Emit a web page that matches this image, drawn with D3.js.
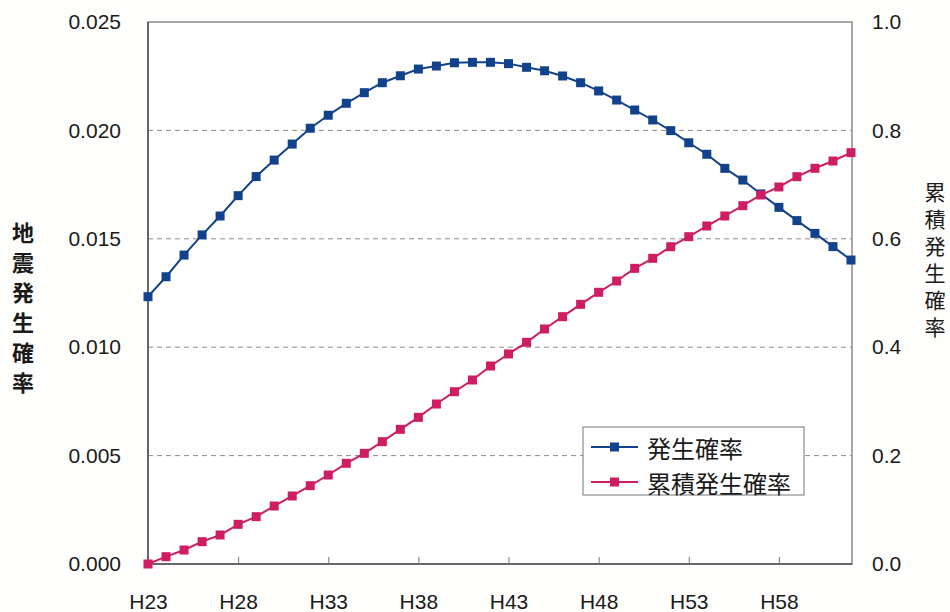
<!DOCTYPE html>
<html>
<head>
<meta charset="utf-8">
<script src="https://cdnjs.cloudflare.com/ajax/libs/d3/7.8.5/d3.min.js"></script>
<style>
body { margin: 0; background: #fff; }
svg { display: block; }
</style>
</head>
<body>
<svg id="chart"></svg>
<script>
// data, H23 .. H62
const years = d3.range(23, 63).map(y => "H" + y);
const annualProb = [0.01233, 0.01325, 0.01425, 0.01518, 0.01605, 0.01699, 0.01787, 0.01863, 0.01937, 0.02010,
  0.02070, 0.02125, 0.02174, 0.02220, 0.02252, 0.02283, 0.02297, 0.02312, 0.02314, 0.02314,
  0.02308, 0.02291, 0.02275, 0.02251, 0.02220, 0.02182, 0.02140, 0.02094, 0.02048, 0.01999,
  0.01943, 0.01890, 0.01825, 0.01771, 0.01707, 0.01645, 0.01584, 0.01525, 0.01464, 0.01402];
const cumProb = [0.0, 0.0135, 0.0258, 0.0412, 0.0535, 0.0732, 0.0873, 0.1070, 0.1255, 0.1445,
  0.1642, 0.1858, 0.2042, 0.2257, 0.2485, 0.2706, 0.2952, 0.3179, 0.3395, 0.3653,
  0.3875, 0.4090, 0.4336, 0.4563, 0.4791, 0.5013, 0.5221, 0.5455, 0.5640, 0.5854,
  0.6039, 0.6236, 0.6421, 0.6611, 0.6808, 0.6956, 0.7146, 0.7301, 0.7435, 0.7589];
const xTickLabels = ["H23", "H28", "H33", "H38", "H43", "H48", "H53", "H58"];
const leftTicks = [0, 0.005, 0.010, 0.015, 0.020, 0.025];
const rightTicks = [0, 0.2, 0.4, 0.6, 0.8, 1.0];
const seriesNames = ["発生確率", "累積発生確率"];
const colors = ["#13428c", "#cf1d63"];

const W = 950, H = 612;
const plot = {left: 148, right: 851, top: 22, bottom: 564};
const numFont = "'Liberation Sans', Arial, sans-serif";
const jpFont = "'Noto Sans CJK JP', sans-serif";

const svg = d3.select("#chart").attr("width", W).attr("height", H);
svg.append("rect").attr("width", W).attr("height", H).attr("fill", "#fefefc");

const x = d3.scalePoint().domain(years).range([plot.left, plot.right]);
const yL = d3.scaleLinear().domain([0, 0.025]).range([plot.bottom, plot.top]);
const yR = d3.scaleLinear().domain([0, 1]).range([plot.bottom, plot.top]);

// plot area
svg.append("rect")
  .attr("x", plot.left).attr("y", plot.top)
  .attr("width", plot.right + 1 - plot.left).attr("height", plot.bottom - plot.top)
  .attr("fill", "#fff").attr("stroke", "#8a8a8a").attr("stroke-width", 1.5);

// grid
svg.append("g").selectAll("line")
  .data(leftTicks.filter(t => t > 0 && t < 0.025))
  .join("line")
  .attr("x1", plot.left).attr("x2", plot.right + 1)
  .attr("y1", d => yL(d)).attr("y2", d => yL(d))
  .attr("stroke", "#8c8c8c").attr("stroke-dasharray", "5,4").attr("stroke-width", 1);

// left + bottom axis lines
svg.append("line").attr("x1", plot.left).attr("x2", plot.left)
  .attr("y1", plot.top).attr("y2", plot.bottom).attr("stroke", "#666").attr("stroke-width", 2);
svg.append("line").attr("x1", plot.left).attr("x2", plot.right + 1)
  .attr("y1", plot.bottom).attr("y2", plot.bottom).attr("stroke", "#666").attr("stroke-width", 2);

// x axis (ticks pointing up, inside)
const xAxis = d3.axisBottom(x)
  .tickValues(xTickLabels)
  .tickSize(-7).tickPadding(0);
const gx = svg.append("g").attr("transform", `translate(0,${plot.bottom})`).call(xAxis);
gx.select(".domain").remove();
gx.selectAll(".tick line").attr("stroke", "#777").filter(d => d === "H23").remove();
gx.selectAll(".tick text")
  .attr("y", 38).attr("dy", "0.35em")
  .attr("font-family", numFont).attr("font-size", 21).attr("fill", "#1a1a1a");

// left axis
const gl = svg.append("g").attr("transform", `translate(${plot.left},0)`)
  .call(d3.axisLeft(yL).tickValues(leftTicks).tickFormat(d3.format(".3f")).tickSize(0).tickPadding(27));
gl.select(".domain").remove();
gl.selectAll(".tick text").attr("font-family", numFont).attr("font-size", 21).attr("fill", "#1a1a1a");

// right axis
const gr = svg.append("g").attr("transform", `translate(${plot.right},0)`)
  .call(d3.axisRight(yR).tickValues(rightTicks).tickFormat(d3.format(".1f")).tickSize(0).tickPadding(21));
gr.select(".domain").remove();
gr.selectAll(".tick text").attr("font-family", numFont).attr("font-size", 21).attr("fill", "#1a1a1a");

// vertical axis titles, one text each, set upright
function vTitle(txt, cx, top, size, step, weight) {
  svg.append("text")
    .attr("x", cx).attr("y", top)
    .style("writing-mode", "vertical-rl")
    .style("text-orientation", "upright")
    .style("letter-spacing", (step - size) + "px")
    .attr("font-family", jpFont).attr("font-size", size).attr("font-weight", weight)
    .attr("fill", "#1a1a1a")
    .text(txt);
}
vTitle("地震発生確率", 23, 222, 22, 30, 700);
vTitle("累積発生確率", 935, 182, 21, 27, 400);

// series
const series = [
  {name: seriesNames[0], values: annualProb, y: yL, color: colors[0]},
  {name: seriesNames[1], values: cumProb, y: yR, color: colors[1]}
];

series.forEach(s => {
  const line = d3.line().x((d, i) => x(years[i])).y(d => s.y(d));
  svg.append("path").datum(s.values)
    .attr("d", line).attr("fill", "none")
    .attr("stroke", s.color).attr("stroke-width", 2);
  svg.append("g").selectAll("rect")
    .data(s.values)
    .join("rect")
    .attr("x", (d, i) => x(years[i]) - 4.5)
    .attr("y", d => s.y(d) - 4.5)
    .attr("width", 9).attr("height", 9)
    .attr("fill", s.color);
});

// legend
const lg = svg.append("g").attr("transform", "translate(583,427)");
lg.append("rect").attr("width", 221).attr("height", 68)
  .attr("fill", "#fff").attr("stroke", "#777").attr("stroke-width", 1);
series.forEach((s, i) => {
  const cy = 20 + i * 35;
  lg.append("line").attr("x1", 8).attr("x2", 55).attr("y1", cy).attr("y2", cy)
    .attr("stroke", s.color).attr("stroke-width", 2);
  lg.append("rect").attr("x", 27).attr("y", cy - 4.5).attr("width", 9).attr("height", 9)
    .attr("fill", s.color);
  lg.append("text").attr("x", 64).attr("y", cy).attr("dominant-baseline", "central")
    .attr("font-family", jpFont).attr("font-size", 24).attr("fill", "#1a1a1a")
    .text(s.name);
});
</script>
</body>
</html>
